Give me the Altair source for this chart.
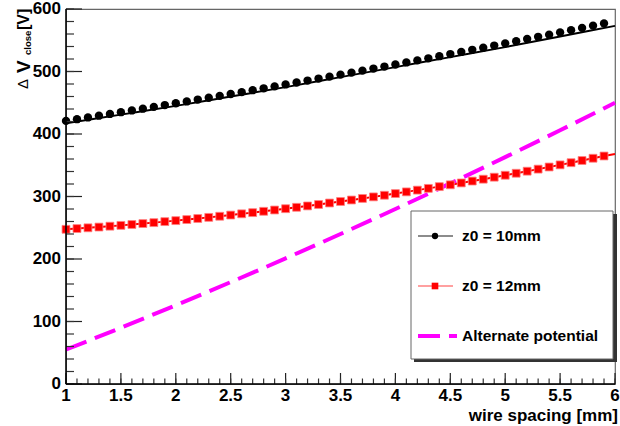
import altair as alt
import pandas as pd

# ---- data ----
x_pts = [round(1.0 + 0.1 * i, 1) for i in range(50)]
z10_vals = [421.0, 423.7, 426.5, 429.3, 432.1, 434.9, 437.7, 440.5, 443.4, 446.3,
            449.2, 452.1, 455.1, 458.0, 461.0, 464.0, 467.0, 470.1, 473.1, 476.2,
            479.3, 482.4, 485.5, 488.7, 491.8, 495.0, 498.2, 501.4, 504.7, 507.9,
            511.2, 514.5, 517.8, 521.1, 524.5, 527.9, 531.3, 534.7, 538.1, 541.5,
            545.0, 548.5, 552.0, 555.5, 559.0, 562.6, 566.2, 569.8, 573.4, 577.0]
z12_vals = [247.5, 248.7, 249.9, 251.1, 252.5, 253.8, 255.2, 256.7, 258.2, 259.8,
            261.4, 263.1, 264.8, 266.6, 268.4, 270.3, 272.3, 274.2, 276.3, 278.4,
            280.5, 282.7, 284.9, 287.2, 289.6, 292.0, 294.4, 296.9, 299.4, 302.0,
            304.7, 307.4, 310.2, 313.0, 315.8, 318.7, 321.7, 324.7, 327.7, 330.9,
            334.0, 337.2, 340.5, 343.8, 347.2, 350.6, 354.1, 357.6, 361.2, 364.8]

line_x = [1.0, 1.5, 2.0, 2.5, 3.0, 3.5, 4.0, 4.5, 5.0, 5.5, 6.0]
z10_line = [417, 431, 445, 460, 475, 491, 507, 523, 539, 556, 573]
z12_line_x = x_pts + [6.0]
z12_line = z12_vals + [368.0]
alt_vals = [55, 90, 126, 163, 201, 240, 280, 321, 363, 406, 450]

legend_labels = ["z0 = 10mm", "z0 = 12mm", "Alternate potential"]

x_major = [1, 1.5, 2, 2.5, 3, 3.5, 4, 4.5, 5, 5.5, 6]
x_major_labels = ["1", "1.5", "2", "2.5", "3", "3.5", "4", "4.5", "5", "5.5", "6"]
x_minor = [round(1.0 + 0.1 * i, 1) for i in range(51)]
y_major = [0, 100, 200, 300, 400, 500, 600]
y_major_labels = ["0", "100", "200", "300", "400", "500", "600"]
y_minor = list(range(0, 601, 20))

W, H = 549, 375
FONT = "Liberation Sans"

xs = alt.Scale(domain=[1, 6], nice=False, zero=False)
ys = alt.Scale(domain=[0, 600], nice=False, zero=False)

df10 = pd.DataFrame({"x": x_pts, "y": z10_vals})
df12 = pd.DataFrame({"x": x_pts, "y": z12_vals})
dfl10 = pd.DataFrame({"x": line_x, "y": z10_line})
dfl12 = pd.DataFrame({"x": z12_line_x, "y": z12_line})
dfalt = pd.DataFrame({"x": line_x, "y": alt_vals})

X = lambda f="x": alt.X(f + ":Q", scale=xs, axis=None)
Y = lambda f="y": alt.Y(f + ":Q", scale=ys, axis=None)

line10 = alt.Chart(dfl10).mark_line(color="black", strokeWidth=2, interpolate="monotone").encode(
    x=X(), y=Y())

line12 = alt.Chart(dfl12).mark_line(color="#ff0000", strokeWidth=2).encode(x=X(), y=Y())

alt_line = alt.Chart(dfalt).mark_line(color="#ff00ff", strokeWidth=4, strokeDash=[22, 9],
                                      interpolate="monotone").encode(x=X(), y=Y())

dots10 = alt.Chart(df10).mark_circle(color="black", size=70, opacity=1).encode(x=X(), y=Y())

sq12 = alt.Chart(df12).mark_square(color="#ff0000", size=62, opacity=1,
                                   stroke="#ff8080", strokeWidth=0.8).encode(x=X(), y=Y())

# inward ticks
ymaj = alt.Chart(pd.DataFrame({"v": y_major})).mark_rule(color="#222", strokeWidth=1.2).encode(
    y=Y("v"), x=alt.value(0), x2=alt.value(16))
ymin = alt.Chart(pd.DataFrame({"v": y_minor})).mark_rule(color="#333", strokeWidth=1.2).encode(
    y=Y("v"), x=alt.value(0), x2=alt.value(8))
xmaj = alt.Chart(pd.DataFrame({"v": x_major})).mark_rule(color="#222", strokeWidth=1.2).encode(
    x=X("v"), y=alt.value(H), y2=alt.value(H - 11))
xmin = alt.Chart(pd.DataFrame({"v": x_minor})).mark_rule(color="#333", strokeWidth=1.2).encode(
    x=X("v"), y=alt.value(H), y2=alt.value(H - 5.5))

# tick labels
ylab = alt.Chart(pd.DataFrame({"v": y_major, "t": y_major_labels})).mark_text(
    font=FONT, fontWeight="bold", fontSize=17, align="right", baseline="middle", color="black").encode(
    y=Y("v"), x=alt.value(-5), text="t:N")
xlab = alt.Chart(pd.DataFrame({"v": x_major, "t": x_major_labels})).mark_text(
    font=FONT, fontWeight="bold", fontSize=17, align="center", baseline="top", color="black").encode(
    x=X("v"), y=alt.value(H + 4), text="t:N")

# frame
left_ax = alt.Chart(pd.DataFrame({"a": [0]})).mark_rule(color="black", strokeWidth=1.5).encode(
    x=alt.value(0), y=alt.value(0), y2=alt.value(H))
bottom_ax = alt.Chart(pd.DataFrame({"a": [0]})).mark_rule(color="black", strokeWidth=1.5).encode(
    x=alt.value(0), x2=alt.value(W), y=alt.value(H))

# legend box (pixel positions relative to plot area)
LX0, LX1, LY0, LY1 = 345, 547, 202, 350
shadow = alt.Chart(pd.DataFrame({"a": [0]})).mark_rect(color="#333").encode(
    x=alt.value(LX0 + 3), x2=alt.value(LX1 + 4), y=alt.value(LY0 + 3), y2=alt.value(LY1 + 3))
box = alt.Chart(pd.DataFrame({"a": [0]})).mark_rect(fill="white", stroke="#666", strokeWidth=1).encode(
    x=alt.value(LX0), x2=alt.value(LX1), y=alt.value(LY0), y2=alt.value(LY1))

ey = [227, 277, 327]
leg_l1 = alt.Chart(pd.DataFrame({"a": [0]})).mark_rule(color="#666", strokeWidth=1.3).encode(
    x=alt.value(352), x2=alt.value(387), y=alt.value(ey[0]))
leg_m1 = alt.Chart(pd.DataFrame({"a": [0]})).mark_circle(color="black", size=40, opacity=1).encode(
    x=alt.value(369), y=alt.value(ey[0]))
leg_l2 = alt.Chart(pd.DataFrame({"a": [0]})).mark_rule(color="#ff8080", strokeWidth=1.3).encode(
    x=alt.value(352), x2=alt.value(387), y=alt.value(ey[1]))
leg_m2 = alt.Chart(pd.DataFrame({"a": [0]})).mark_square(color="#ff0000", size=44, opacity=1).encode(
    x=alt.value(369), y=alt.value(ey[1]))
leg_l3 = alt.Chart(pd.DataFrame({"a": [0]})).mark_rule(color="#ff00ff", strokeWidth=4,
                                                        strokeDash=[22, 9]).encode(
    x=alt.value(352), x2=alt.value(391), y=alt.value(ey[2]))
leg_txt = alt.Chart(pd.DataFrame({"t": legend_labels, "yy": ey})).mark_text(
    font=FONT, fontWeight="bold", fontSize=15.5, align="left", baseline="middle", color="black").encode(
    text="t:N", x=alt.value(396), y=alt.Y("yy:Q", scale=None, axis=None))

# titles
xtitle = alt.Chart(pd.DataFrame({"t": ["wire spacing [mm]"]})).mark_text(
    font=FONT, fontWeight="bold", fontSize=17, align="right", baseline="alphabetic", color="black").encode(
    text="t:N", x=alt.value(W + 3), y=alt.value(H + 37))

def ypart(txt, size, weight, xb, ystart):
    return alt.Chart(pd.DataFrame({"t": [txt]})).mark_text(
        font=FONT, fontWeight=weight, fontSize=size, align="left", baseline="alphabetic",
        angle=270, color="black").encode(text="t:N", x=alt.value(xb), y=alt.value(ystart))

yt1 = ypart("\u0394", 15, "normal", -38, 80)
yt2 = ypart("V", 19, "bold", -36, 64)
yt3 = ypart("close", 9.5, "bold", -35, 46)
yt4 = ypart("[V]", 16, "bold", -37, 21)

chart = alt.layer(
    line10, line12, alt_line, dots10, sq12,
    ymaj, ymin, xmaj, xmin, ylab, xlab, left_ax, bottom_ax,
    shadow, box, leg_l1, leg_m1, leg_l2, leg_m2, leg_l3, leg_txt,
    xtitle, yt1, yt2, yt3, yt4
).properties(
    width=W, height=H,
    autosize=alt.AutoSizeParams(type="none"),
    padding={"left": 66, "top": 9, "right": 5, "bottom": 42},
    background="white"
).configure_view(stroke="#666", strokeWidth=1.2)

chart.save("out.html", embed_options={"renderer": "svg", "actions": False})
